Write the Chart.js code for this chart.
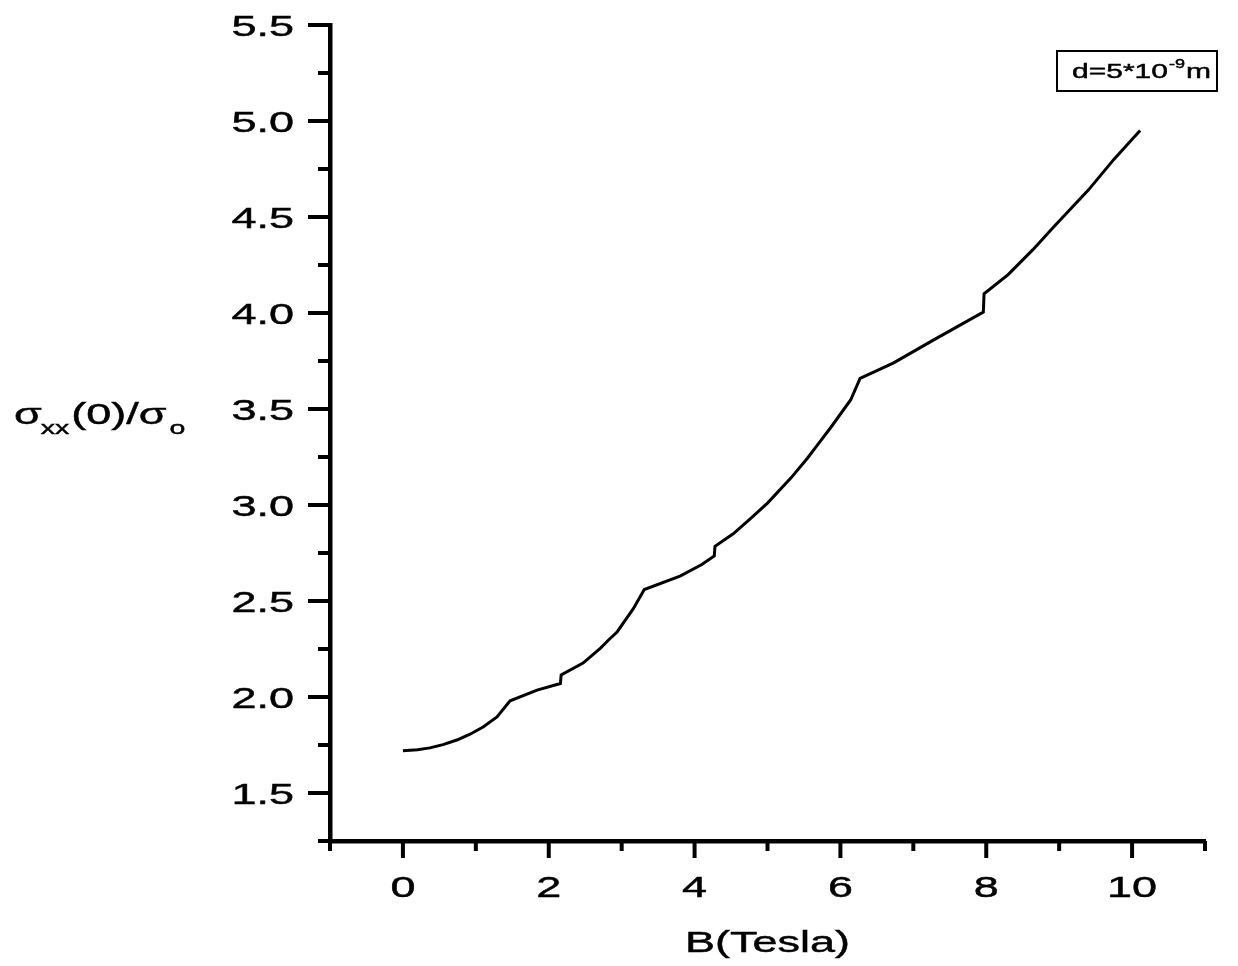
<!DOCTYPE html>
<html>
<head>
<meta charset="utf-8">
<script src="https://cdn.jsdelivr.net/npm/chart.js@4/dist/chart.umd.min.js"></script>
<style>
  html, body { margin: 0; padding: 0; background: #fff; }
  canvas { display: block; }
</style>
</head>
<body>
<canvas id="c" width="1238" height="966"></canvas>
<script>
// Magnetic field (Tesla) and normalised conductivity sigma_xx(0)/sigma_o
const fieldB = [0, 0.2, 0.37, 0.55, 0.74, 0.92, 1.10, 1.29, 1.47, 1.84, 2.16, 2.17, 2.47, 2.71, 2.82,
  2.94, 3.05, 3.16, 3.31, 3.80, 4.10, 4.27, 4.28, 4.53, 4.77, 5.0, 5.32, 5.55, 5.66, 5.87, 6.14,
  6.27, 6.73, 7.28, 7.96, 7.97, 8.30, 8.64, 8.93, 9.40, 9.75, 10.11];
const sigmaRatio = [1.72, 1.725, 1.735, 1.752, 1.776, 1.806, 1.844, 1.896, 1.98, 2.036, 2.07, 2.115, 2.177, 2.255, 2.297,
  2.34, 2.40, 2.46, 2.56, 2.63, 2.69, 2.735, 2.785, 2.85, 2.93, 3.01, 3.14, 3.245, 3.30, 3.405, 3.547,
  3.66, 3.74, 3.86, 4.005, 4.10, 4.20, 4.33, 4.45, 4.64, 4.80, 4.95];

// Axis ticks and labels
const xMajorTicks = [0, 2, 4, 6, 8, 10];
const xMinorTicks = [-1, 1, 3, 5, 7, 9, 11];
const xTickLabels = ['0', '2', '4', '6', '8', '10'];
const yMajorTicks = [1.5, 2.0, 2.5, 3.0, 3.5, 4.0, 4.5, 5.0, 5.5];
const yMinorTicks = [1.25, 1.75, 2.25, 2.75, 3.25, 3.75, 4.25, 4.75, 5.25];
const yTickLabels = ['1.5', '2.0', '2.5', '3.0', '3.5', '4.0', '4.5', '5.0', '5.5'];

const FONT = '"Liberation Sans", Arial, Helvetica, sans-serif';
const STRETCH = 1.5;

// Draw text widened horizontally, like the extended sans face of the plot
function wideText(ctx, text, x, y, size, align) {
  ctx.save();
  ctx.font = size + 'px ' + FONT;
  const w = ctx.measureText(text).width * STRETCH;
  let left = x;
  if (align === 'center') left = x - w / 2;
  else if (align === 'right') left = x - w;
  ctx.translate(left, y);
  ctx.scale(STRETCH, 1);
  ctx.textAlign = 'left';
  ctx.textBaseline = 'alphabetic';
  ctx.fillStyle = '#000';
  ctx.strokeStyle = '#000';
  ctx.lineWidth = 0.45;
  ctx.fillText(text, 0, 0);
  ctx.strokeText(text, 0, 0);
  ctx.restore();
  return w;
}

const axisDecor = {
  id: 'axisDecor',
  afterDraw(chart) {
    const ctx = chart.ctx;
    const xs = chart.scales.x, ys = chart.scales.y;
    const area = chart.chartArea;
    ctx.save();
    ctx.strokeStyle = '#000';
    ctx.lineCap = 'butt';
    ctx.lineWidth = 4;
    // y ticks (outward, to the left)
    yMajorTicks.forEach(v => {
      const p = ys.getPixelForValue(v);
      ctx.beginPath(); ctx.moveTo(area.left, p); ctx.lineTo(area.left - 22, p); ctx.stroke();
    });
    yMinorTicks.forEach(v => {
      const p = ys.getPixelForValue(v);
      ctx.beginPath(); ctx.moveTo(area.left, p); ctx.lineTo(area.left - 12, p); ctx.stroke();
    });
    // x ticks (outward, downward)
    xMajorTicks.forEach(v => {
      const p = xs.getPixelForValue(v);
      ctx.beginPath(); ctx.moveTo(p, area.bottom); ctx.lineTo(p, area.bottom + 17); ctx.stroke();
    });
    xMinorTicks.forEach(v => {
      const p = xs.getPixelForValue(v);
      ctx.beginPath(); ctx.moveTo(p, area.bottom); ctx.lineTo(p, area.bottom + 10); ctx.stroke();
    });
    ctx.restore();

    // tick labels
    yMajorTicks.forEach((v, i) => {
      wideText(ctx, yTickLabels[i], area.left - 36, ys.getPixelForValue(v) + 11, 30, 'right');
    });
    xMajorTicks.forEach((v, i) => {
      wideText(ctx, xTickLabels[i], xs.getPixelForValue(v), area.bottom + 56, 30, 'center');
    });

    // axis titles
    wideText(ctx, 'B(Tesla)', (area.left + area.right) / 2, area.bottom + 111, 30, 'center');
    let x = 14;
    const base = 424;
    x += wideText(ctx, 'σ', x, base, 30, 'left');
    x += wideText(ctx, 'xx', x - 1, base + 10, 19, 'left');
    x += wideText(ctx, '(0)/σ', x + 1, base, 30, 'left') + 1;
    wideText(ctx, 'o', x + 3, base + 10, 19, 'left');

    // legend box
    ctx.save();
    ctx.strokeStyle = '#000';
    ctx.lineWidth = 2;
    ctx.strokeRect(1057, 51, 160, 40);
    ctx.restore();
    let lx = 1072;
    lx += wideText(ctx, 'd=5*10', lx, 78, 20, 'left');
    lx += wideText(ctx, '-9', lx + 1, 68, 12, 'left');
    wideText(ctx, 'm', lx + 2, 78, 20, 'left');
  }
};

new Chart(document.getElementById('c'), {
  type: 'scatter',
  data: {
    datasets: [{
      data: fieldB.map((b, i) => ({ x: b, y: sigmaRatio[i] })),
      showLine: true,
      borderColor: '#000',
      borderWidth: 3,
      pointRadius: 0,
      tension: 0
    }]
  },
  options: {
    responsive: false,
    animation: false,
    devicePixelRatio: 1,
    layout: { padding: { left: 330, right: 33, top: 25, bottom: 125 } },
    plugins: { legend: { display: false }, tooltip: { enabled: false } },
    scales: {
      x: {
        type: 'linear', min: -1, max: 11,
        grid: { display: false, drawTicks: false },
        ticks: { display: false },
        border: { display: true, width: 4.5, color: '#000' }
      },
      y: {
        type: 'linear', min: 1.25, max: 5.5,
        grid: { display: false, drawTicks: false },
        ticks: { display: false },
        border: { display: true, width: 4.5, color: '#000' }
      }
    }
  },
  plugins: [axisDecor]
});
</script>
</body>
</html>
